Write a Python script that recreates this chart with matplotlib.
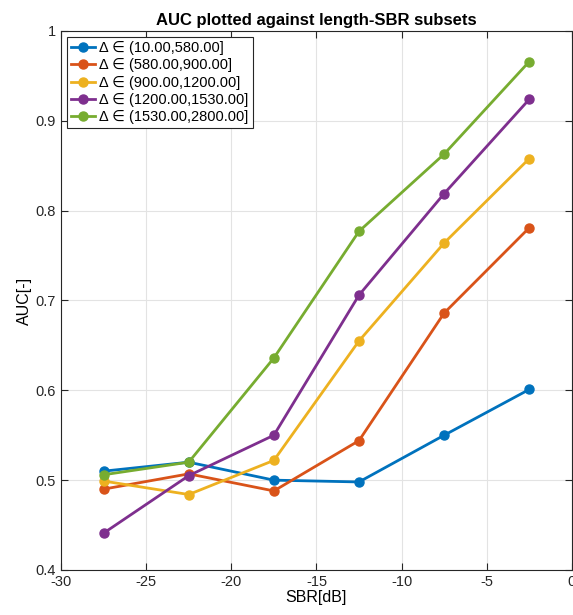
import numpy as np
import matplotlib
matplotlib.use('Agg')
import matplotlib.pyplot as plt

plt.rcParams['font.family'] = ['Liberation Sans', 'DejaVu Sans']
plt.rcParams['axes.unicode_minus'] = False

# SBR bins (dB)
sbr = [-27.5, -22.5, -17.5, -12.5, -7.5, -2.5]

labels = ['\u0394 \u2208 (10.00,580.00]',
          '\u0394 \u2208 (580.00,900.00]',
          '\u0394 \u2208 (900.00,1200.00]',
          '\u0394 \u2208 (1200.00,1530.00]',
          '\u0394 \u2208 (1530.00,2800.00]']

auc_1 = [0.510, 0.520, 0.500, 0.498, 0.550, 0.601]
auc_2 = [0.490, 0.507, 0.488, 0.544, 0.686, 0.781]
auc_3 = [0.499, 0.484, 0.522, 0.655, 0.764, 0.858]
auc_4 = [0.441, 0.505, 0.550, 0.706, 0.819, 0.924]
auc_5 = [0.506, 0.520, 0.636, 0.777, 0.863, 0.966]

colors = ['#0072BD', '#D95319', '#EDB120', '#7E2F8E', '#77AC30']

fig = plt.figure(figsize=(5.73, 6.15), dpi=100)
ax = fig.add_axes([0.1065, 0.0732, 0.8915, 0.8764])

for y, c, lab in zip([auc_1, auc_2, auc_3, auc_4, auc_5], colors, labels):
    ax.plot(sbr, y, '-o', color=c, lw=2, ms=6.5, label=lab)

ax.set_xlim(-30, 0)
ax.set_ylim(0.4, 1)
ax.set_xticks(np.arange(-30, 1, 5))
ax.set_yticks(np.arange(0.4, 1.01, 0.1))
ax.set_yticklabels(['0.4', '0.5', '0.6', '0.7', '0.8', '0.9', '1'])
ax.grid(True, color='#e3e3e3', lw=0.8)
ax.set_axisbelow(True)
ax.tick_params(direction='in', top=True, right=True, labelsize=10.5, length=5, colors='#262626')
for s in ax.spines.values():
    s.set_color('#262626')

ax.set_xlabel('SBR[dB]', fontsize=11.5, labelpad=1)
ax.set_ylabel('AUC[-]', fontsize=11.5, labelpad=3)
ax.set_title('AUC plotted against length-SBR subsets', fontsize=12, fontweight='bold', pad=4)

leg = ax.legend(loc='upper left', fontsize=10.5, fancybox=False, framealpha=1,
                edgecolor='#262626', borderaxespad=0.4, handlelength=1.6,
                handletextpad=0.3, labelspacing=0.22, borderpad=0.3)
leg.get_frame().set_linewidth(0.8)

fig.savefig('out.png', dpi=100)
